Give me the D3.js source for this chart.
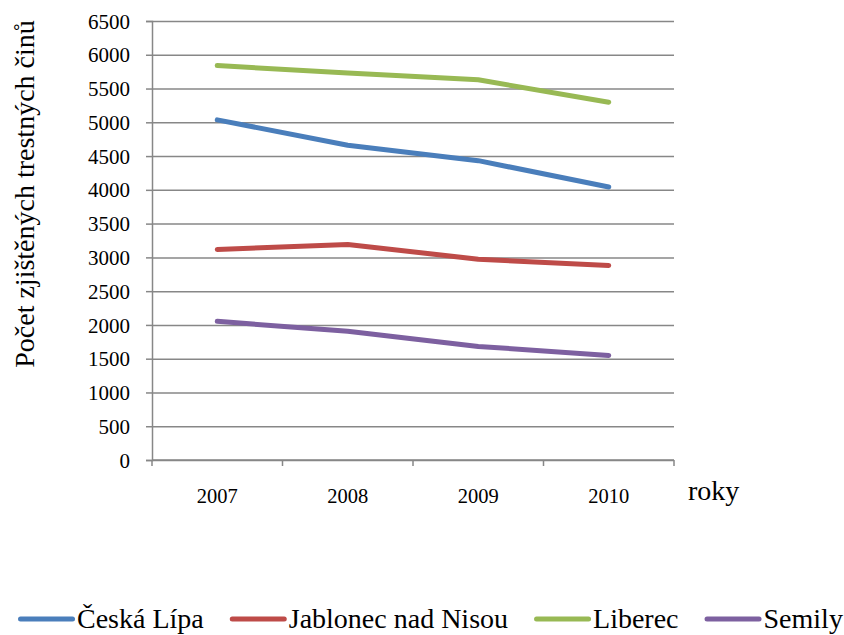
<!DOCTYPE html>
<html>
<head>
<meta charset="utf-8">
<script src="https://cdn.jsdelivr.net/npm/d3@7"></script>
<style>
  body { margin: 0; background: #fff; }
</style>
</head>
<body>
<div id="chart"></div>
<script>
// data
const years = ["2007", "2008", "2009", "2010"];
const ceskaLipa = [5036, 4660, 4432, 4042];
const jablonec = [3117, 3191, 2973, 2880];
const liberec = [5841, 5729, 5629, 5298];
const semily = [2053, 1905, 1682, 1549];
const seriesNames = ["Česká Lípa", "Jablonec nad Nisou", "Liberec", "Semily"];
const seriesColors = ["#4a7ebb", "#be4b48", "#98b954", "#7d60a0"];
const yTicks = d3.range(0, 6501, 500);

const series = [ceskaLipa, jablonec, liberec, semily].map((values, i) => ({
    name: seriesNames[i],
    color: seriesColors[i],
    values: values
}));

const W = 844, H = 635;
const margin = { top: 21, right: 170, bottom: 175, left: 152 };
const width = W - margin.left - margin.right;
const height = H - margin.top - margin.bottom;
const serif = "'Liberation Serif', 'Times New Roman', 'DejaVu Serif', serif";

const svg = d3.select("#chart").append("svg")
    .attr("width", W)
    .attr("height", H);

function txt(sel, size) {
    return sel.style("font-family", serif).style("font-size", size + "px").style("fill", "#000");
}

const g = svg.append("g")
    .attr("transform", `translate(${margin.left},${margin.top})`);

// scales
const x = d3.scaleBand().domain(years).range([0, width]).padding(0);
const y = d3.scaleLinear().domain([0, 6500]).range([height, 0]);

const gridColor = "#878787";

// y axis + grid
const yAxis = g.append("g")
    .call(d3.axisLeft(y).tickValues(yTicks).tickSize(6).tickPadding(8).tickFormat(d3.format("d")));
yAxis.select(".domain").attr("stroke", gridColor).attr("stroke-width", 1.5);
yAxis.selectAll(".tick line").attr("stroke", gridColor).attr("stroke-width", 1.5)
    .attr("x2", width);
yAxis.selectAll(".tick line").clone().attr("x2", -6);
txt(yAxis.selectAll(".tick text"), 21).attr("x", -22).attr("dy", "0.34em");

// x axis: ticks at the band boundaries
const xAxis = g.append("g").attr("transform", `translate(0,${height})`);
xAxis.append("line")
    .attr("x1", 0).attr("x2", width)
    .attr("stroke", gridColor).attr("stroke-width", 1.5);
xAxis.selectAll("line.bound")
    .data(years.map(d => x(d)).concat([width]))
    .enter().append("line")
    .attr("class", "bound")
    .attr("x1", d => d).attr("x2", d => d)
    .attr("y1", 0).attr("y2", 6)
    .attr("stroke", gridColor).attr("stroke-width", 1.5);
txt(xAxis.selectAll("text")
    .data(years)
    .enter().append("text")
    .attr("x", d => x(d) + x.bandwidth() / 2)
    .attr("y", 43)
    .attr("text-anchor", "middle")
    .text(d => d), 20.5);

// axis titles
txt(svg.append("text")
    .attr("transform", `translate(34,194) rotate(-90)`)
    .attr("text-anchor", "middle")
    .text("Počet zjištěných trestných činů"), 28);

txt(svg.append("text")
    .attr("x", 688)
    .attr("y", 500)
    .text("roky"), 28);

// lines
const line = d3.line()
    .x((d, i) => x(years[i]) + x.bandwidth() / 2)
    .y(d => y(d));

g.selectAll("path.series")
    .data(series)
    .enter().append("path")
    .attr("class", "series")
    .attr("d", d => line(d.values))
    .attr("fill", "none")
    .attr("stroke", d => d.color)
    .attr("stroke-width", 5)
    .attr("stroke-linecap", "round")
    .attr("stroke-linejoin", "round");

// legend
const legend = svg.append("g").attr("transform", "translate(18,619)");
let lx = 0;
series.forEach(s => {
    const item = legend.append("g").attr("transform", `translate(${lx},0)`);
    item.append("line")
        .attr("x1", 2.5).attr("x2", 54.5)
        .attr("stroke", s.color)
        .attr("stroke-width", 5)
        .attr("stroke-linecap", "round");
    const t = txt(item.append("text")
        .attr("x", 59)
        .attr("y", 9)
        .text(s.name), 28);
    lx += 59 + t.node().getComputedTextLength() + 26;
});
</script>
</body>
</html>
